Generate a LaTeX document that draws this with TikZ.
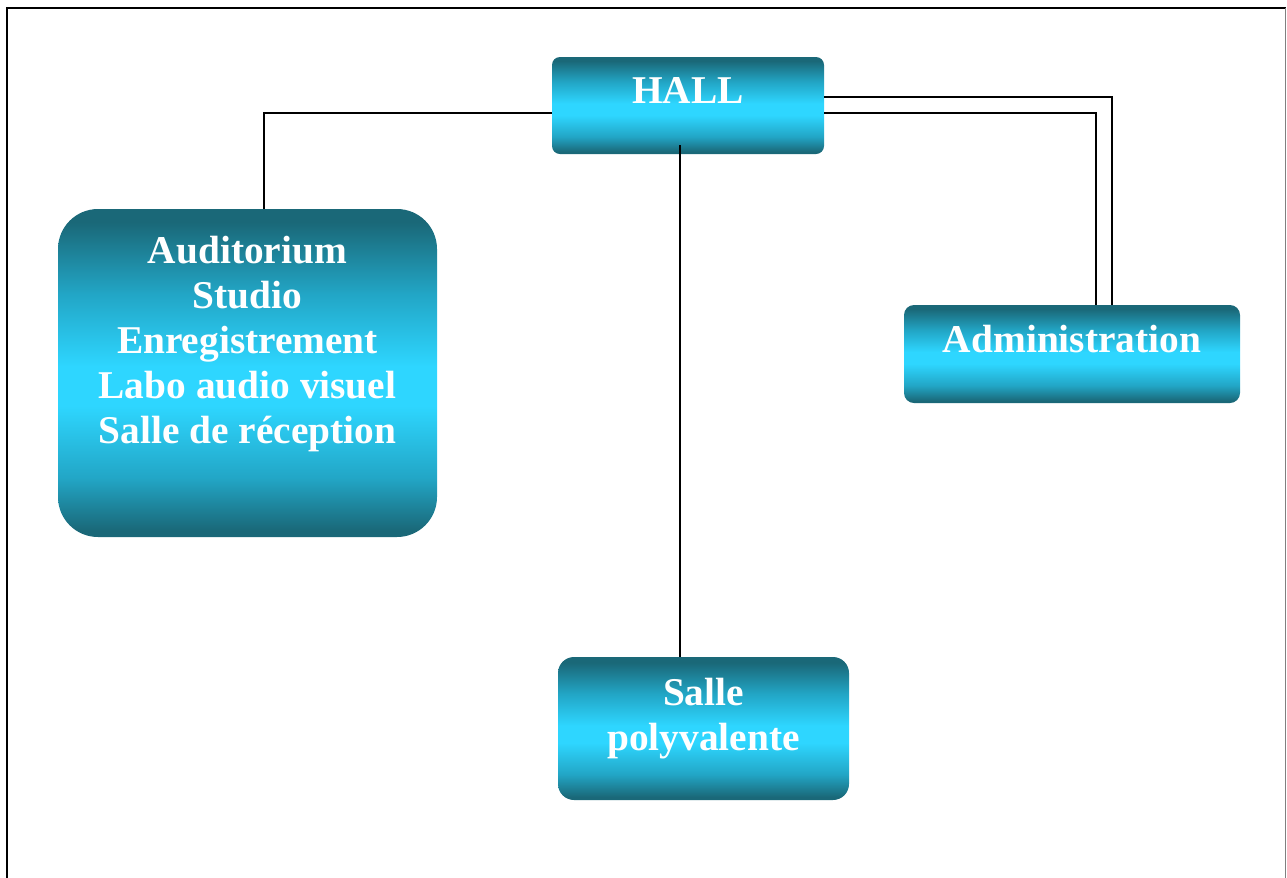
\documentclass[tikz,border=0pt]{standalone}
\usepackage{fontspec}
\setmainfont{Liberation Serif}
\usepackage{tikz}
\usetikzlibrary{positioning,calc}
\definecolor{boxdark}{RGB}{26,104,120}
\definecolor{boxmid}{RGB}{34,166,198}
\definecolor{boxlight}{RGB}{46,214,255}
\pgfdeclareverticalshading{cyanband}{100bp}{color(0bp)=(boxdark); color(26bp)=(boxdark); color(34bp)=(boxmid); color(45bp)=(boxlight); color(51bp)=(boxlight); color(62bp)=(boxmid); color(73bp)=(boxdark); color(100bp)=(boxdark)}

\begin{document}
\begin{tikzpicture}[
  room/.style={shading=cyanband,draw=none,inner sep=0pt},
  txt/.style={text=white,font=\fontsize{22.4}{25.6}\selectfont\bfseries,align=center,inner sep=0pt},
  conn/.style={draw=black,line width=0.8pt}]
\useasboundingbox (0,0) rectangle (25.74,-17.54);
\draw[line width=0.9pt] (0.14,-18) -- (0.14,-0.16) -- (25.71,-0.16);
\draw[gray,line width=0.6pt] (25.71,-0.16) -- (25.71,-18);

\node[room,rounded corners=0.16cm,minimum width=5.44cm,minimum height=1.94cm] (hall) at (13.76,-2.11) {};
\node[room,rounded corners=0.8cm,minimum width=7.58cm,minimum height=6.56cm] (audi) at (4.95,-7.46) {};
\node[room,rounded corners=0.2cm,minimum width=6.72cm,minimum height=1.96cm] (admin) at (21.44,-7.08) {};
\node[room,rounded corners=0.32cm,minimum width=5.82cm,minimum height=2.86cm] (salle) at (14.07,-14.57) {};

\node[txt] (hall-t) at ([yshift=0.31cm]hall.center) {HALL};
\node[txt] (audi-t) at ([yshift=0.58cm]audi.center) {Auditorium\\Studio\\Enregistrement\\Labo audio visuel\\Salle de réception};
\node[txt] (admin-t) at ([yshift=0.3cm]admin.center) {Administration};
\node[txt] (salle-t) at ([yshift=0.2cm]salle.center) {Salle\\polyvalente};

\draw[conn] ([yshift=-0.15cm]hall.west) -| ([xshift=0.33cm]audi.north);
\draw[conn] ([xshift=-0.16cm,yshift=0.18cm]hall.south) -- ([xshift=-0.16cm]hall.south |- salle.north);
\draw[conn] ([yshift=0.17cm]hall.east) -| ([xshift=0.8cm]admin.north);
\draw[conn] ([yshift=-0.15cm]hall.east) -| ([xshift=0.48cm]admin.north);
\end{tikzpicture}
\end{document}
